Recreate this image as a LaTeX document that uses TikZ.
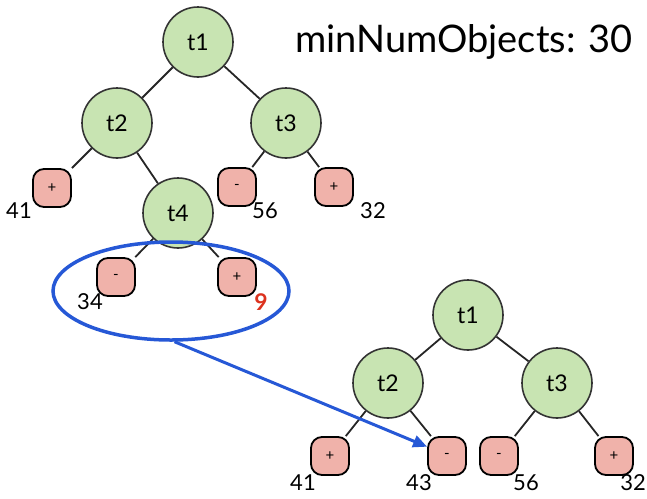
\documentclass[tikz,border=0pt]{standalone}
\usepackage{fontspec}
\setmainfont{Lato}
\usetikzlibrary{arrows.meta,shapes.geometric}
\definecolor{nodegreen}{RGB}{200,228,178}
\definecolor{leafpink}{RGB}{240,178,170}
\definecolor{arrowblue}{RGB}{38,88,214}
\definecolor{ninered}{RGB}{220,50,30}
\tikzset{
  tnode/.style={circle,draw=black!80,line width=1.6pt,fill=nodegreen,minimum size=70pt,inner sep=0pt,font=\fontsize{23}{23}\selectfont},
  leaf/.style={rectangle,rounded corners=11pt,draw=black,line width=1.8pt,fill=leafpink,minimum size=38pt,inner sep=0pt,font=\fontsize{15}{15}\selectfont},
  num/.style={font=\fontsize{22}{22}\selectfont,inner sep=0pt},
  edge/.style={line width=1.8pt,black!85},
}
\begin{document}
\begin{tikzpicture}[x=1pt,y=-1pt]
\useasboundingbox (0,0) rectangle (647,498);
% title
\node[font=\fontsize{38}{38}\selectfont,inner sep=0pt] (title) at (464,42) {minNumObjects: 30};
% top tree
\node[tnode] (a1) at (198,42) {t1};
\node[tnode] (a2) at (117,123) {t2};
\node[tnode] (a3) at (286,123) {t3};
\node[tnode] (a4) at (178,213) {t4};
\node[leaf] (a2l) at (52,188) {+};
\node[leaf] (a3l) at (237,187) {-};
\node[leaf] (a3r) at (334,187) {+};
\node[leaf] (a4l) at (116,277) {-};
\node[leaf] (a4r) at (237,277) {+};
\draw[edge] (a1) -- (a2);
\draw[edge] (a1) -- (a3);
\draw[edge] (a2) -- (a2l);
\draw[edge] (a2) -- (a4);
\draw[edge] (a3) -- (a3l);
\draw[edge] (a3) -- (a3r);
\draw[edge] (a4) -- (a4l);
\draw[edge] (a4) -- (a4r);
\node[num] (n41a) at (19,211) {41};
\node[num] (n56a) at (265,211) {56};
\node[num] (n32a) at (373,211) {32};
\node[num] (n34) at (90,302) {34};
\node[num,text=ninered,font=\fontsize{23}{23}\selectfont\bfseries] (n9) at (261,302) {9};
% ellipse highlight
\node[ellipse,draw=arrowblue,line width=3.5pt,minimum width=236pt,minimum height=98pt,inner sep=0pt] (ell) at (171,291) {};
% bottom tree
\node[tnode] (b1) at (468,315) {t1};
\node[tnode] (b2) at (388,383) {t2};
\node[tnode] (b3) at (557,383) {t3};
\node[leaf] (b2l) at (330,456) {+};
\node[leaf] (b2r) at (447,456) {-};
\node[leaf] (b3l) at (499,456) {-};
\node[leaf] (b3r) at (614,456) {+};
\draw[edge] (b1) -- (b2);
\draw[edge] (b1) -- (b3);
\draw[edge] (b2) -- (b2l);
\draw[edge] (b2) -- (b2r);
\draw[edge] (b3) -- (b3l);
\draw[edge] (b3) -- (b3r);
\node[num] (n41b) at (303,483) {41};
\node[num] (n43) at (419,483) {43};
\node[num] (n56b) at (526,483) {56};
\node[num] (n32b) at (633,483) {32};
% arrow
\draw[arrowblue,line width=3pt,-{Triangle[length=14pt,width=12pt]}] (ell.-86) -- (b2r.155);
\end{tikzpicture}
\end{document}
